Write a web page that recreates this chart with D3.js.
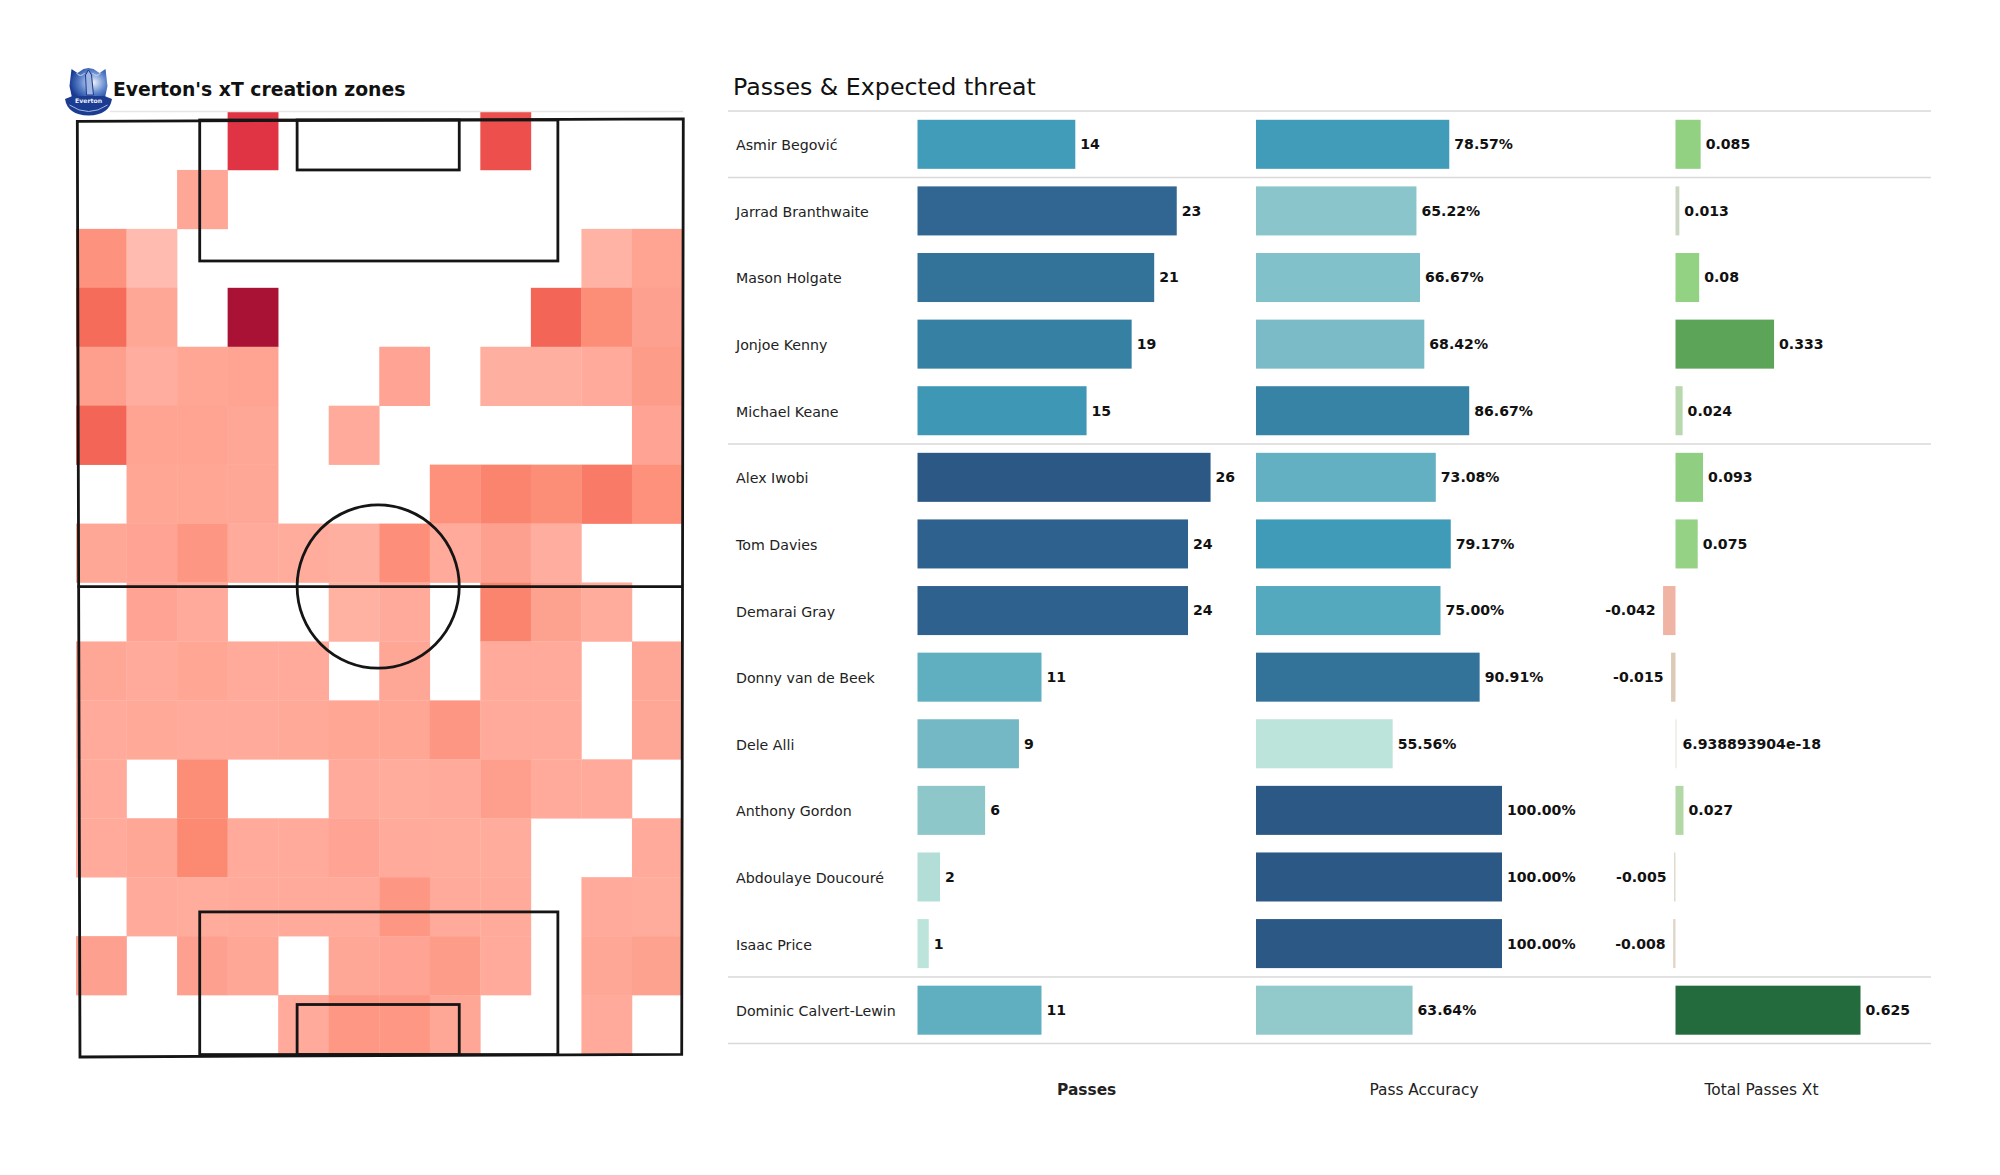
<!DOCTYPE html>
<html><head><meta charset="utf-8">
<script src="https://cdn.jsdelivr.net/npm/d3@7"></script>
<style>html,body{margin:0;background:#fff}svg{display:block;font-family:"DejaVu Sans",sans-serif}</style>
</head><body><svg id="c" width="2000" height="1175"></svg>
<script>
const players=["Asmir Begović","Jarrad Branthwaite","Mason Holgate","Jonjoe Kenny","Michael Keane","Alex Iwobi","Tom Davies","Demarai Gray","Donny van de Beek","Dele Alli","Anthony Gordon","Abdoulaye Doucouré","Isaac Price","Dominic Calvert-Lewin"];
const passes=[14,23,21,19,15,26,24,24,11,9,6,2,1,11];
const accuracy=[78.57,65.22,66.67,68.42,86.67,73.08,79.17,75,90.91,55.56,100,100,100,63.64];
const xt=[0.085,0.013,0.08,0.333,0.024,0.093,0.075,-0.042,-0.015,6.938893904e-18,0.027,-0.005,-0.008,0.625];
const xtLabels=["0.085","0.013","0.08","0.333","0.024","0.093","0.075","-0.042","-0.015","6.938893904e-18","0.027","-0.005","-0.008","0.625"];
const separatorsAfter=[0,4,12];
const columnTitles=["Passes","Pass Accuracy","Total Passes Xt"];
const heat=[
[0,0,0,.82,0,0,0,0,.72,0,0,0],
[0,0,.22,0,0,0,0,0,0,0,0,0],
[.35,.1,0,0,0,0,0,0,0,0,.15,.25],
[.5,.22,0,1,0,0,0,0,0,.55,.38,.27],
[.28,.18,.23,.25,0,0,.24,0,.17,.17,.2,.3],
[.55,.25,.25,.22,0,.2,0,0,0,0,0,.24],
[0,.23,.23,.22,0,0,0,.36,.42,.38,.45,.36],
[.22,.24,.33,.2,.19,.17,.37,.2,.27,.18,0,0],
[0,.24,.2,0,0,.16,.2,0,.42,.26,.19,0],
[.22,.2,.23,.2,.2,0,.22,0,.2,.2,0,.22],
[.2,.21,.2,.2,.21,.23,.23,.33,.2,.2,0,.22],
[.2,0,.38,0,0,.2,.19,.2,.28,.2,.2,0],
[.2,.22,.4,.2,.2,.24,.2,.19,.19,0,0,.2],
[0,.2,.19,.2,.2,.2,.33,.2,.2,0,.2,.19],
[.27,0,.27,.22,0,.22,.24,.3,.2,0,.22,.26],
[0,0,0,0,.2,.32,.32,.22,0,0,.2,0]];
const pitchOuter=[[-.03,.14],[100.13,-.11],[99.87,99.87],[.41,100.16]];
const pitchRects=[[20.2,0,79.4,15.07],[36.3,0,63.1,5.34],[20.2,84.65,79.4,99.9],[36.3,94.55,63.1,99.9]];

const svg=d3.select("#c");
const heatColor=d3.scaleLinear().domain([.1,.2,.3,.4,.5,.72,.82,1])
  .range(["#FFBBAF","#FFAA9A","#FE9C8A","#FC8A73","#F56C5A","#EC4F4C","#E03444","#A91235"]);
const gx=d3.scaleLinear().domain([0,12]).range([76,682.5]);
const gy=d3.scaleLinear().domain([0,16]).range([111,1054]);
svg.append("g").selectAll("rect").data(heat.flatMap((r,i)=>r.map((v,j)=>({v,i,j}))).filter(d=>d.v>0)).join("rect")
 .attr("x",d=>gx(d.j)).attr("y",d=>gy(d.i)).attr("width",gx(1)-gx(0)+.3).attr("height",gy(1)-gy(0)+.3).attr("fill",d=>heatColor(d.v));

const px=d3.scaleLinear().domain([0,100]).range([77.5,682.5]);
const py=d3.scaleLinear().domain([0,100]).range([120,1055.5]);
svg.append("line").attr("x1",110).attr("x2",683).attr("y1",111.5).attr("y2",111.5).attr("stroke","#e6e6e6").attr("stroke-width",1.5);
const pitch=svg.append("g").attr("fill","none").attr("stroke","#151515").attr("stroke-width",2.8);
pitch.append("path").attr("d",d3.line().x(d=>px(d[0])).y(d=>py(d[1])).curve(d3.curveLinearClosed)(pitchOuter));
pitch.selectAll("rect").data(pitchRects).join("rect")
 .attr("x",d=>px(d[0])).attr("y",d=>py(d[1])).attr("width",d=>px(d[2])-px(d[0])).attr("height",d=>py(d[3])-py(d[1]));
pitch.append("line").attr("x1",px(0)).attr("x2",px(100)).attr("y1",py(49.87)).attr("y2",py(49.87));
pitch.append("ellipse").attr("cx",px(49.7)).attr("cy",py(49.87)).attr("rx",px(13.4)-px(0)).attr("ry",py(8.73)-py(0));

// crest
const defs=svg.append("defs");
const grad=defs.append("radialGradient").attr("id","cg").attr("cx",.62).attr("cy",.45).attr("r",.62);
grad.append("stop").attr("offset",0).attr("stop-color","#f0f4fb");
grad.append("stop").attr("offset",.55).attr("stop-color","#5f86cc");
grad.append("stop").attr("offset",1).attr("stop-color","#173a93");
const crest=svg.append("g").attr("transform","translate(88.5,92)");
crest.append("path").attr("d","M-17,-23 L-11,-19 L-5,-23 L0,-24 L5,-23 L11,-19 L17,-23 L19,-6 L16,8 L-16,8 L-19,-6Z").attr("fill","url(#cg)");
crest.append("path").attr("d","M-12,-19 a5,6 0 0 0 8,0 M4,-19 a5,6 0 0 0 8,0").attr("fill","none").attr("stroke","#cfdaf0").attr("stroke-width",1);
crest.append("path").attr("d","M-3,-17 L0,-22 L3,-17 L5,3 L-2,3Z").attr("fill","#9fb6e2").attr("stroke","#1b3a8f").attr("stroke-width",1);
crest.append("path").attr("d","M-23.5,7 L-16,4 L16,4 L23.5,7 Q21,23 0,23.5 Q-21,23 -23.5,7Z").attr("fill","#1c3c92");
crest.append("path").attr("d","M-19,13 Q0,26 19,13").attr("fill","none").attr("stroke","#9fb6e2").attr("stroke-width",1);
crest.append("text").attr("y",11).attr("text-anchor","middle").attr("font-size",6.2).attr("font-weight","bold").attr("fill","#eef2fb").text("Everton");

svg.append("text").attr("x",113).attr("y",96).attr("font-size",18.8).attr("font-weight","bold").attr("fill","#111").text("Everton's xT creation zones");
svg.append("text").attr("x",733).attr("y",95).attr("font-size",23.7).attr("fill","#111").text("Passes & Expected threat");

const y=d3.scaleBand().domain(players).range([111,1043.5]).paddingInner(.264).paddingOuter(.132);
const rowTop=i=>111+(1043.5-111)/players.length*i;
const lines=[0,...separatorsAfter.map(i=>i+1),players.length];
svg.append("g").selectAll("line").data(lines).join("line")
 .attr("x1",728).attr("x2",1931).attr("y1",rowTop).attr("y2",rowTop).attr("stroke","#d9d9d9").attr("stroke-width",1.5);
svg.append("g").selectAll("text").data(players).join("text")
 .attr("x",736).attr("y",d=>y(d)+y.bandwidth()/2+1).attr("dy",".35em").attr("font-size",14.2).attr("fill","#222").text(d=>d);

const ramp=d3.scaleLinear().domain([0,.18,.25,.29,.394,.437,.518,.56,.70,.795,.88,1])
 .range(["#BDE4DA","#92CACB","#81C1C9","#7BBBC7","#62B0C1","#55A9BF","#409CB8","#3E98B5","#3683A6","#33739A","#306691","#2B5885"]);
const xP=d3.scaleLinear().domain([0,14]).range([917.5,1075.3]);
const xA=d3.scaleLinear().domain([0,100]).range([1256,1502]);
const xX=d3.scaleLinear().domain([0,.625]).range([1675.5,1860.5]);
const tP=d3.scaleLinear().domain([1,26]).range([0,1]);
const tA=d3.scaleLinear().domain([55.56,100]).range([0,1]);
const colX=d3.scaleLinear().domain([-.042,-.015,0,.013,.027,.08,.333,.625])
 .range(["#F0B4A4","#DCC9B6","#E4E4DA","#CBD6C2","#B2D8A6","#93D183","#5BA458","#236B3D"]);
function barCol(vals,x,col,fmt,gap){
 const g=svg.append("g");
 g.selectAll("rect").data(vals).join("rect")
  .attr("x",d=>Math.min(x(0),x(d))).attr("y",(d,i)=>y(players[i]))
  .attr("width",d=>Math.max(Math.abs(x(d)-x(0)),1)).attr("height",y.bandwidth()).attr("fill",col);
 g.selectAll("text").data(vals).join("text")
  .attr("x",d=>d<0?x(d)-7.5:x(d)+gap+(d>0&&d<1e-9?2:0)).attr("y",(d,i)=>y(players[i])+y.bandwidth()/2)
  .attr("dy",".35em").attr("text-anchor",d=>d<0?"end":"start")
  .attr("font-size",14.1).attr("font-weight","bold").attr("fill","#111").text(fmt);
}
barCol(passes,xP,d=>ramp(tP(d)),d=>d,5);
barCol(accuracy,xA,d=>ramp(tA(d)),d=>d.toFixed(2)+"%",5);
barCol(xt,xX,colX,(d,i)=>xtLabels[i],5);

const titleX=[1086.7,1424,1761.5];
svg.append("g").selectAll("text").data(columnTitles).join("text")
 .attr("x",(d,i)=>titleX[i]).attr("y",1095).attr("text-anchor","middle").attr("font-size",15.4)
 .attr("font-weight",(d,i)=>i==0?"bold":"normal").attr("fill","#222").text(d=>d);
</script></body></html>
